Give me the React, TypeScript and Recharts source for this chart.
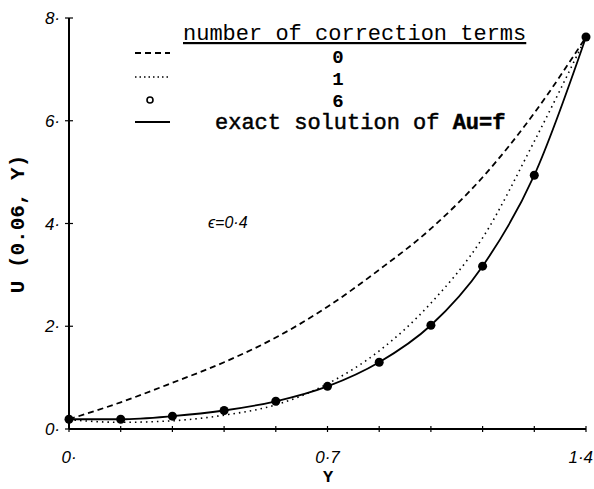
import React from "react";
import { ComposedChart, Line, Scatter, XAxis, YAxis } from "recharts";

// y positions along the section (x axis of the plot)
const yValues = [0, 0.14, 0.28, 0.42, 0.56, 0.7, 0.84, 0.98, 1.12, 1.26, 1.4];
// U(0.06, Y) for each number of correction terms
const zeroTerms = [0.19, 0.52, 0.9, 1.3, 1.78, 2.38, 3.1, 3.9, 4.9, 6.15, 7.63];
const oneTerm = [0.18, 0.13, 0.16, 0.27, 0.47, 0.88, 1.52, 2.45, 3.72, 5.6, 7.63];
const sixTerms = [0.19, 0.19, 0.25, 0.36, 0.54, 0.83, 1.3, 2.02, 3.17, 4.94, 7.63];
const exactSolution = [0.19, 0.19, 0.25, 0.36, 0.54, 0.83, 1.3, 2.02, 3.17, 4.94, 7.63];

const xTickLabels: Record<string, string> = { "0": "0·", "0.7": "0·7", "1.4": "1·4" };
const yTicks = [0, 2, 4, 6, 8];

const data = yValues.map((y, i) => ({
  y,
  zero: zeroTerms[i],
  one: oneTerm[i],
  six: sixTerms[i],
  exact: exactSolution[i],
}));

const mono = "'Liberation Mono', 'DejaVu Sans Mono', monospace";
const tickFont = "'Liberation Sans', Arial, sans-serif";

const XTick = (props: any) => {
  const { x, y, payload } = props;
  const label = xTickLabels[String(payload.value)];
  // last label sits against the right edge like in the scan
  const isLast = payload.value === 1.4;
  return (
    <g>
      <line x1={x} x2={x} y1={y - 3} y2={y + 3} stroke="#000" strokeWidth={1.2} />
      {label && (
        <text
          x={isLast ? x + 7 : x}
          y={y + 34}
          textAnchor={isLast ? "end" : "middle"}
          fontFamily={tickFont}
          fontStyle="italic"
          fontSize={17}
          fill="#000"
        >
          {label}
        </text>
      )}
    </g>
  );
};

const YTick = (props: any) => {
  const { x, y, payload } = props;
  return (
    <g>
      <line x1={x - 4} x2={x + 4} y1={y} y2={y} stroke="#000" strokeWidth={1.2} />
      <text x={x - 9} y={y + 6} textAnchor="end" fontFamily={tickFont} fontStyle="italic" fontSize={17} fill="#000">
        {payload.value + "·"}
      </text>
    </g>
  );
};

const Dot = (props: any) => <circle cx={props.cx} cy={props.cy} r={4.5} fill="#000" />;

export default function App() {
  return (
    <div style={{ position: "absolute", left: 0, top: 0, width: 594, height: 489, background: "#fff" }}>
      <ComposedChart
        width={594}
        height={489}
        data={data}
        margin={{ top: 18, right: 8, left: 0, bottom: 0 }}
      >
        <XAxis
          dataKey="y"
          type="number"
          domain={[0, 1.4]}
          ticks={yValues}
          interval={0}
          height={60}
          tickSize={0}
          tickMargin={0}
          tickLine={false}
          tick={<XTick />}
          axisLine={{ stroke: "#000", strokeWidth: 2 }}
        />
        <YAxis
          type="number"
          domain={[0, 8]}
          ticks={yTicks}
          width={69}
          tickSize={0}
          tickMargin={0}
          tickLine={false}
          tick={<YTick />}
          axisLine={{ stroke: "#000", strokeWidth: 2 }}
        />
        <Line
          dataKey="zero"
          type="monotone"
          stroke="#000"
          strokeWidth={1.8}
          strokeDasharray="6 4"
          dot={false}
          isAnimationActive={false}
        />
        <Line
          dataKey="one"
          type="monotone"
          stroke="#000"
          strokeWidth={1.6}
          strokeDasharray="1.5 4"
          dot={false}
          isAnimationActive={false}
        />
        <Line
          dataKey="exact"
          type="monotone"
          stroke="#000"
          strokeWidth={1.8}
          dot={false}
          isAnimationActive={false}
        />
        <Scatter dataKey="six" fill="#000" shape={<Dot />} isAnimationActive={false} />
      </ComposedChart>

      <svg width={594} height={489} style={{ position: "absolute", left: 0, top: 0, pointerEvents: "none" }}>
        <text x={183} y={40} fontFamily={mono} fontSize={22} fill="#000" textDecoration="underline">
          number of correction terms
        </text>
        <line x1={135} x2={170} y1={53} y2={53} stroke="#000" strokeWidth={1.8} strokeDasharray="6 4" />
        <text x={338} y={63} textAnchor="middle" fontFamily={mono} fontWeight="bold" fontSize={19} fill="#000">0</text>
        <line x1={135} x2={170} y1={77} y2={77} stroke="#000" strokeWidth={1.4} strokeDasharray="1.5 3" />
        <text x={338} y={85} textAnchor="middle" fontFamily={mono} fontWeight="bold" fontSize={19} fill="#000">1</text>
        <circle cx={150} cy={100} r={3} fill="none" stroke="#000" strokeWidth={1.6} />
        <text x={338} y={107} textAnchor="middle" fontFamily={mono} fontWeight="bold" fontSize={19} fill="#000">6</text>
        <line x1={135} x2={170} y1={122} y2={122} stroke="#000" strokeWidth={1.8} />
        <text x={215} y={129} fontFamily={mono} fontSize={22} fill="#000" stroke="#000" strokeWidth={0.5}>
          exact solution of <tspan fontWeight="bold">Au=f</tspan>
        </text>
        <text x={208} y={228} fontFamily={tickFont} fontStyle="italic" fontSize={16} fill="#000">
          ϵ=0·4
        </text>
        <text
          x={24}
          y={224}
          transform="rotate(-90 24 224)"
          textAnchor="middle"
          fontFamily={mono}
          fontWeight="bold"
          fontSize={21}
          fill="#000"
        >
          U (0.06, Y)
        </text>
        <text x={328} y={482} textAnchor="middle" fontFamily={mono} fontWeight="bold" fontSize={17} fill="#000">
          Y
        </text>
      </svg>
    </div>
  );
}
